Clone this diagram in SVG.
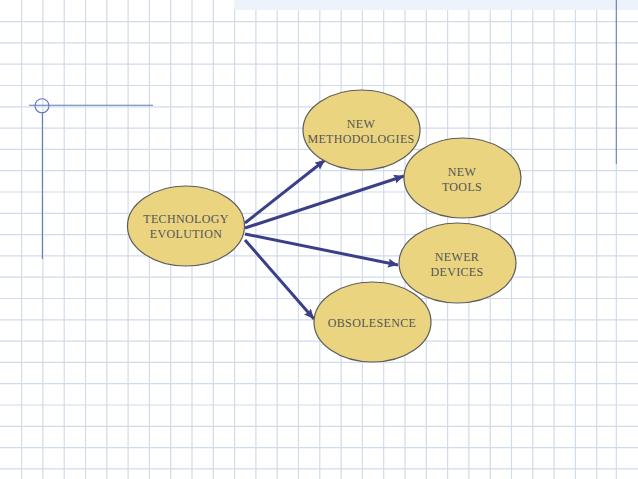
<svg xmlns="http://www.w3.org/2000/svg" width="638" height="479" viewBox="0 0 638 479">
<style>
.bg{fill:#fff}
.grid{stroke:#d0dbec;stroke-width:1.2;fill:none}
.rule{stroke:#6079ba;stroke-width:1.1;fill:none}
.node{fill:#ead480;stroke:#5c5c5c;stroke-width:1.2}
.lbl{font-family:"Liberation Serif",serif;font-size:12px;letter-spacing:.35px;fill:#555;text-anchor:middle}
.conn{stroke:#3a3f88;stroke-width:3;fill:none;marker-end:url(#arrow)}
</style>
<defs>
<marker id="arrow" markerUnits="userSpaceOnUse" markerWidth="12" markerHeight="10" refX="10" refY="4.5" orient="auto"><path d="M0 0L10 4.5L0 9L1.5 4.5Z" fill="#3a3f88"/></marker>
</defs>
<rect class="bg" width="638" height="479"/>
<rect x="234" y="0" width="404" height="10" fill="#eef2fb"/>
<path class="grid" d="M21.6 0V479M42.9 0V479M64.2 0V479M85.5 0V479M106.8 0V479M128.1 0V479M149.4 0V479M170.7 0V479M192 0V479M213.3 0V479M234.6 10V479M255.9 10V479M277.2 10V479M298.5 10V479M319.8 10V479M341.1 10V479M362.4 10V479M383.7 10V479M405 10V479M426.3 10V479M447.6 10V479M468.9 10V479M490.2 10V479M511.5 10V479M532.8 10V479M554.1 10V479M575.4 10V479M596.7 10V479M616.3 164V479"/>
<path class="grid" d="M0 21.6H638M0 42.9H638M0 64.2H638M0 85.5H638M0 106.8H638M0 128.1H638M0 149.4H638M0 170.7H638M0 192H638M0 213.3H638M0 234.6H638M0 255.9H638M0 277.2H638M0 298.5H638M0 319.8H638M0 341.1H638M0 362.4H638M0 383.7H638M0 405H638M0 426.3H638M0 447.6H638M0 468.9H638"/>
<g id="rules">
<path class="rule" d="M29 105.3H153M42.4 112V259M616.3 0V164"/>
<circle class="rule" cx="42" cy="105.8" r="7"/>
</g>
<g id="connectors">
<path class="conn" d="M245 223L325 160"/>
<path class="conn" d="M245 228L404 176"/>
<path class="conn" d="M245 234L398 265"/>
<path class="conn" d="M245 240L314 319"/>
</g>
<g id="technology-evolution"><ellipse class="node" cx="186" cy="226" rx="58.5" ry="40"/><text class="lbl" x="186" y="223">TECHNOLOGY</text><text class="lbl" x="186" y="238">EVOLUTION</text></g>
<g id="new-methodologies"><ellipse class="node" cx="361.5" cy="130" rx="58.5" ry="40"/><text class="lbl" x="361" y="128">NEW</text><text class="lbl" x="361" y="143">METHODOLOGIES</text></g>
<g id="new-tools"><ellipse class="node" cx="462.5" cy="178" rx="58.5" ry="40"/><text class="lbl" x="462" y="176">NEW</text><text class="lbl" x="462" y="191">TOOLS</text></g>
<g id="newer-devices"><ellipse class="node" cx="457.5" cy="263" rx="58.5" ry="40"/><text class="lbl" x="457" y="261">NEWER</text><text class="lbl" x="457" y="276">DEVICES</text></g>
<g id="obsolesence"><ellipse class="node" cx="372.5" cy="322" rx="58.5" ry="40"/><text class="lbl" x="372" y="327">OBSOLESENCE</text></g>
</svg>
